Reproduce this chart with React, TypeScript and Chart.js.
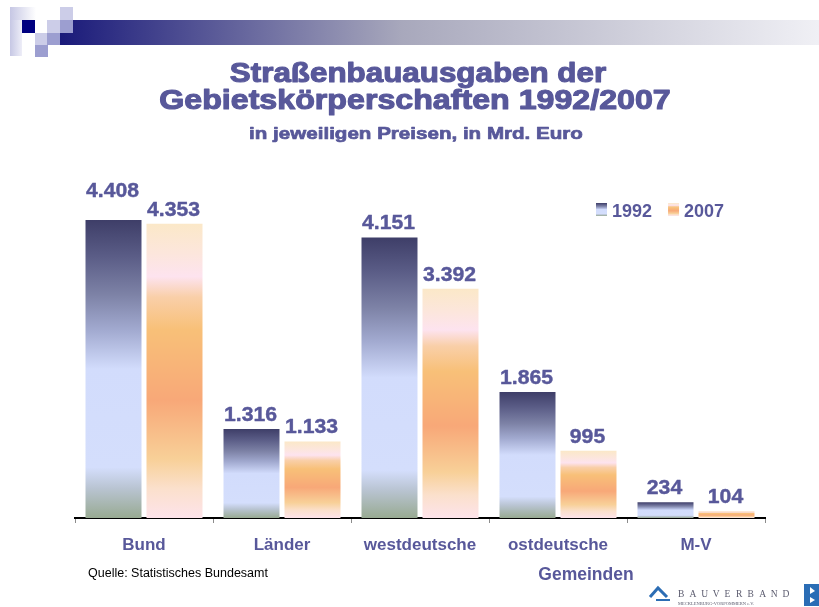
import React, { useEffect, useRef } from "react";
import { Chart, registerables } from "chart.js";

Chart.register(...registerables);

// ---------- data ----------
const categories = ["Bund", "Länder", "westdeutsche", "ostdeutsche", "M-V"];
const seriesNames = ["1992", "2007"];
const values1992 = [4408, 1316, 4151, 1865, 234];
const values2007 = [4353, 1133, 3392, 995, 104];
const titleLines = ["Straßenbauausgaben der", "Gebietskörperschaften 1992/2007"];
const subtitleText = "in jeweiligen Preisen, in Mrd. Euro";
const extraCategoryLine = "Gemeinden";
const sourceNote = "Quelle: Statistisches Bundesamt";
const logoName = "BAUVERBAND";
const logoSub = "MECKLENBURG-VORPOMMERN e.V.";

// ---------- styles ----------
const FONT = "'Liberation Sans', Arial, Helvetica, sans-serif";
const SERIF = "'Liberation Serif', 'DejaVu Serif', serif";
const TEXT_COLOR = "#58589a";

type Stop = [number, string];
const stops1992: Stop[] = [
  [0, "#3e3e68"],
  [0.12, "#5a5c86"],
  [0.25, "#7d82a6"],
  [0.37, "#a2aad0"],
  [0.5, "#d2dcfc"],
  [0.83, "#d4defc"],
  [0.9, "#b9c4d2"],
  [1, "#98aa92"],
];
const stops2007: Stop[] = [
  [0, "#fbe8c8"],
  [0.1, "#fce6dc"],
  [0.18, "#fde3ef"],
  [0.25, "#f9cfa8"],
  [0.36, "#f8c078"],
  [0.6, "#f8a878"],
  [0.8, "#f8d098"],
  [0.9, "#fbe0cc"],
  [1, "#fde3ea"],
];

function fmt(v: number): string {
  return String(v).replace(/\B(?=(\d{3})+(?!\d))/g, ".");
}

function vGradient(ctx: CanvasRenderingContext2D, top: number, bottom: number, stops: Stop[]) {
  const g = ctx.createLinearGradient(0, top, 0, Math.max(bottom, top + 1));
  stops.forEach(([o, c]) => g.addColorStop(o, c));
  return g;
}

function barFill(stops: Stop[], fallback: string) {
  return (c: any) => {
    const chart = c.chart;
    if (!chart.chartArea || c.type !== "data") return fallback;
    const y = chart.scales.y;
    const top = y.getPixelForValue(c.raw as number);
    const base = y.getPixelForValue(0);
    return vGradient(chart.ctx, top, base, stops);
  };
}

function stretchedText(
  ctx: CanvasRenderingContext2D,
  text: string,
  cx: number,
  y: number,
  sx: number,
  heavy = 0
) {
  ctx.save();
  ctx.translate(cx, y);
  ctx.scale(sx, 1);
  ctx.textAlign = "center";
  ctx.fillText(text, 0, 0);
  if (heavy > 0) {
    ctx.strokeStyle = ctx.fillStyle as string;
    ctx.lineWidth = heavy;
    ctx.lineJoin = "round";
    ctx.strokeText(text, 0, 0);
  }
  ctx.restore();
}

const decorPlugin = {
  id: "decor",
  beforeDraw(chart: any) {
    const ctx: CanvasRenderingContext2D = chart.ctx;
    ctx.save();
    const band = ctx.createLinearGradient(60, 0, 819, 0);
    band.addColorStop(0, "#1a1a7a");
    band.addColorStop(0.45, "#a8a8bc");
    band.addColorStop(1, "#f0f0f5");
    ctx.fillStyle = band;
    ctx.fillRect(60, 20, 759, 25);
    const lg1 = ctx.createLinearGradient(10, 0, 36, 0);
    lg1.addColorStop(0, "#c6c7e4");
    lg1.addColorStop(1, "#ffffff");
    ctx.fillStyle = lg1;
    ctx.fillRect(10, 7, 26, 13);
    const lg2 = ctx.createLinearGradient(10, 0, 24, 0);
    lg2.addColorStop(0, "#c6c7e4");
    lg2.addColorStop(1, "#f4f4fb");
    ctx.fillStyle = lg2;
    ctx.fillRect(10, 20, 12, 36);
    ctx.fillStyle = "#000080";
    ctx.fillRect(22, 20, 13, 13);
    ctx.fillStyle = "#cccde8";
    ctx.fillRect(35, 33, 12, 12);
    ctx.fillRect(47, 20, 13, 13);
    ctx.fillRect(60, 7, 13, 13);
    ctx.fillStyle = "#9c9ed0";
    ctx.fillRect(35, 45, 13, 12);
    ctx.fillRect(47, 33, 13, 12);
    ctx.fillRect(60, 20, 13, 13);
    ctx.restore();
  },
  afterDraw(chart: any) {
    const ctx: CanvasRenderingContext2D = chart.ctx;
    ctx.save();
    ctx.fillStyle = TEXT_COLOR;
    ctx.textBaseline = "alphabetic";
    // title
    ctx.font = `bold 27.5px ${FONT}`;
    stretchedText(ctx, titleLines[0], 418, 82, 1.14, 1.1);
    stretchedText(ctx, titleLines[1], 415, 108.5, 1.17, 1.1);
    ctx.font = `bold 17px ${FONT}`;
    stretchedText(ctx, subtitleText, 416, 138.5, 1.21, 0.7);
    // second line of "ostdeutsche Gemeinden"
    ctx.textAlign = "center";
    ctx.font = `bold 17.5px ${FONT}`;
    ctx.fillText(extraCategoryLine, 586, 580);

    // legend
    ctx.textAlign = "left";
    ctx.font = `bold 18px ${FONT}`;
    let lx = 596;
    const stopsList = [stops1992, stops2007];
    chart.data.datasets.forEach((ds: any, i: number) => {
      ctx.fillStyle = vGradient(ctx, 203, 216, stopsList[i]);
      ctx.fillRect(lx, 203, 11, 13);
      ctx.fillStyle = TEXT_COLOR;
      ctx.fillText(ds.label, lx + 16, 216.5);
      lx += 16 + ctx.measureText(ds.label).width + 16;
    });

    // source
    ctx.fillStyle = "#000000";
    ctx.font = `12.5px ${FONT}`;
    ctx.fillText(sourceNote, 88, 577);

    // logo
    ctx.strokeStyle = "#2c6db4";
    ctx.lineWidth = 3;
    ctx.beginPath();
    ctx.moveTo(650, 597);
    ctx.lineTo(658, 588);
    ctx.lineTo(667, 597);
    ctx.stroke();
    ctx.lineWidth = 2;
    ctx.beginPath();
    ctx.moveTo(656, 600);
    ctx.lineTo(670, 600);
    ctx.stroke();
    ctx.fillStyle = "#5b5b6e";
    ctx.font = `9.5px ${SERIF}`;
    let tx = 678;
    for (const ch of logoName) {
      ctx.fillText(ch, tx, 597);
      tx += 11.6;
    }
    ctx.font = `4.5px ${SERIF}`;
    ctx.fillText(logoSub, 678, 605);
    ctx.fillStyle = "#2a6db5";
    ctx.fillRect(804, 584, 15, 22);
    ctx.fillStyle = "#ffffff";
    ctx.beginPath();
    ctx.moveTo(810, 587);
    ctx.lineTo(815, 591);
    ctx.lineTo(810, 594);
    ctx.closePath();
    ctx.fill();
    ctx.beginPath();
    ctx.moveTo(810, 597);
    ctx.lineTo(815, 600);
    ctx.lineTo(810, 603);
    ctx.closePath();
    ctx.fill();
    ctx.restore();
  },
};

const valueLabelPlugin = {
  id: "valueLabels",
  afterDatasetsDraw(chart: any, _args: any, opts: any) {
    const ctx: CanvasRenderingContext2D = chart.ctx;
    ctx.save();
    ctx.font = `bold 20px ${FONT}`;
    ctx.fillStyle = TEXT_COLOR;
    ctx.textBaseline = "alphabetic";
    chart.data.datasets.forEach((ds: any, di: number) => {
      const meta = chart.getDatasetMeta(di);
      meta.data.forEach((bar: any, i: number) => {
        const lift = (opts && opts.lift && opts.lift[di] && opts.lift[di][i]) || 0;
        stretchedText(ctx, fmt(ds.data[i]), bar.x - 1, bar.y - 8 - lift, 1.06, 0.4);
      });
    });
    ctx.restore();
  },
};

export default function App() {
  const ref = useRef<HTMLCanvasElement | null>(null);
  useEffect(() => {
    document.body.style.margin = "0";
    if (!ref.current) return;
    const chart = new Chart(ref.current, {
      type: "bar",
      data: {
        labels: categories,
        datasets: [
          {
            label: seriesNames[0],
            data: values1992,
            backgroundColor: barFill(stops1992, "#a4acd2"),
            borderWidth: 0,
          },
          {
            label: seriesNames[1],
            data: values2007,
            backgroundColor: barFill(stops2007, "#f8c078"),
            borderWidth: 0,
          },
        ],
      },
      options: {
        responsive: false,
        animation: false,
        events: [],
        datasets: {
          bar: { categoryPercentage: 0.884, barPercentage: 0.918 },
        },
        layout: { padding: { left: 75, right: 54, top: 180, bottom: 39.6 } },
        scales: {
          x: {
            grid: {
              display: true,
              drawOnChartArea: false,
              drawTicks: true,
              tickLength: 5,
              color: "#8c8c8c",
              lineWidth: 1,
              offset: true,
            },
            border: { display: true, color: "#000000", width: 2 },
            ticks: {
              color: TEXT_COLOR,
              font: { family: FONT, size: 17, weight: "bold", lineHeight: 1.2 },
              padding: 12,
              maxRotation: 0,
              autoSkip: false,
            },
          },
          y: { display: false, min: 0, max: 5000 },
        },
        plugins: {
          legend: { display: false },
          title: { display: false },
          tooltip: { enabled: false },
          valueLabels: { lift: { 0: { 0: 15 } } },
        } as any,
      },
      plugins: [decorPlugin, valueLabelPlugin],
    });
    return () => chart.destroy();
  }, []);
  return (
    <div style={{ position: "absolute", left: 0, top: 0, width: 819, height: 607 }}>
      <canvas ref={ref} width={819} height={607} />
    </div>
  );
}
